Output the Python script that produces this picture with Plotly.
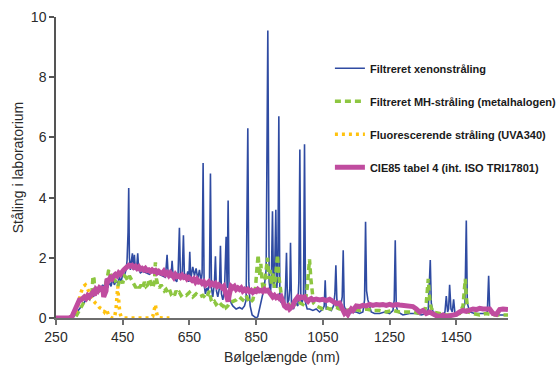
import plotly.graph_objects as go

# ---------------- data ----------------
xenon_wl = [250, 300, 320, 340, 360, 380, 390, 395, 400, 405, 410, 415, 420, 425, 430, 435, 440, 445, 450, 455, 460, 463,
            466, 468, 470, 473, 476, 479, 482, 485, 488, 492, 495, 498, 503, 510, 520, 530, 540, 550, 560, 570, 578,
            583, 586, 590, 595, 598, 601, 606, 612, 616, 620, 623, 628, 632, 635, 640, 645, 648, 651, 654, 660, 665,
            670, 675, 680, 685, 688, 691, 694, 698, 702, 706, 710, 713, 716, 720, 725, 728, 731, 735, 740, 743, 746,
            750, 755, 760, 763, 766, 769, 775, 780, 790, 800, 808, 815, 820, 825, 828, 832, 838, 845, 850, 855, 862,
            868, 874, 880, 885, 889, 893, 896, 899, 902, 905, 909, 912, 915, 918, 921, 925, 930, 935, 938, 941, 944,
            948, 951, 953, 956, 962, 968, 975, 978, 981, 984, 988, 992, 995, 998, 1003, 1010, 1020, 1030, 1040, 1050,
            1054, 1057, 1060, 1068, 1075, 1082, 1086, 1089, 1092, 1096, 1102, 1108, 1111, 1114, 1120, 1130, 1140,
            1150, 1160, 1170, 1175, 1178, 1181, 1185, 1190, 1195, 1205, 1220, 1235, 1250, 1260, 1264, 1267, 1270,
            1275, 1290, 1310, 1330, 1345, 1360, 1366, 1369, 1372, 1375, 1380, 1395, 1410, 1416, 1420, 1424, 1427,
            1430, 1434, 1438, 1442, 1446, 1460, 1470, 1476, 1480, 1483, 1490, 1505, 1520, 1535, 1543, 1547, 1550,
            1560, 1575, 1590, 1605]
xenon_val = [0.0, 0.0, 0.3, 0.6, 0.7, 0.9, 1.1, 1.0, 1.3, 1.0, 1.2, 1.05, 1.3, 1.1, 1.25, 1.15, 1.35, 1.2, 1.45, 1.4, 1.6, 1.9,
             2.85, 4.32, 2.0, 1.6, 1.9, 2.15, 1.6, 2.1, 1.6, 1.7, 2.15, 1.6, 1.5, 1.55, 1.5, 1.45, 1.55, 1.5, 1.45, 1.4, 1.35,
             2.1, 1.5, 1.45, 1.35, 1.9, 1.4, 1.3, 1.2, 1.5, 3.0, 1.4, 1.3, 2.75, 1.4, 1.3, 1.55, 1.2, 2.2, 1.3, 1.7, 1.4,
             1.65, 1.3, 1.6, 1.2, 1.5, 5.15, 1.1, 0.8, 1.0, 0.9, 1.2, 4.8, 1.0, 0.7, 1.2, 2.05, 0.9, 0.7, 1.0, 2.4, 0.8,
             0.6, 0.9, 2.7, 1.0, 3.9, 0.8, 0.5, 0.4, 0.3, 0.35, 0.3, 0.4, 0.6, 6.3, 1.2, 0.4, 0.1, 0.05, 0.0, 0.05, 0.4,
             0.6, 1.0, 1.6, 9.55, 1.2, 0.8, 1.5, 3.55, 1.0, 1.2, 3.6, 1.0, 1.5, 6.7, 0.8, 0.5, 0.6, 0.4, 1.0, 2.17, 0.5,
             0.6, 1.0, 2.5, 0.4, 0.3, 0.5, 0.4, 1.2, 5.6, 0.6, 0.5, 0.8, 5.77, 0.5, 0.3, 0.3, 0.25, 0.3, 0.2, 0.3,
             0.4, 1.25, 0.3, 0.3, 0.25, 0.4, 0.8, 1.75, 0.6, 0.3, 0.3, 0.7, 2.25, 0.4, 0.2, 0.15, 0.2,
             0.2, 0.15, 0.2, 0.6, 3.2, 0.9, 0.6, 0.4, 0.2, 0.15, 0.15, 0.2, 0.15, 0.25, 0.6, 2.58, 0.4,
             0.2, 0.1, 0.15, 0.15, 0.1, 0.15, 0.3, 1.0, 1.93, 0.5, 0.2, 0.15, 0.1, 0.2, 0.73, 0.2, 0.3,
             1.1, 0.3, 0.2, 0.62, 0.15, 0.15, 0.2, 0.5, 3.24, 0.5, 0.2, 0.15, 0.15, 0.15, 0.2, 1.4, 0.3,
             0.1, 0.1, 0.1, 0.1]

mh_wl = [310, 315, 320, 325, 330, 335, 340, 345, 350, 355, 358, 361, 364, 367, 372, 378, 385, 392, 398, 403, 408, 412, 416,
         420, 425, 430, 435, 440, 445, 450, 455, 460, 465, 470, 475, 480, 485, 490, 495, 500, 505, 510, 515, 520, 525,
         530, 535, 540, 545, 548, 551, 555, 560, 565, 570, 575, 580, 585, 590, 595, 600, 605, 610, 615, 620, 625, 630,
         640, 650, 660, 670, 680, 690, 700, 710, 715, 720, 725, 730, 735, 740, 745, 750, 755, 760, 765, 770, 780, 790,
         800, 810, 820, 830, 840, 848, 852, 856, 860, 864, 868, 872, 876, 880, 884, 888, 892, 896, 900, 905, 910, 914,
         918, 922, 926, 932, 940, 948, 955, 962, 968, 975, 982, 990, 998, 1003, 1007, 1010, 1014, 1018, 1022, 1030,
         1040, 1050, 1060, 1070, 1080, 1090, 1100, 1110, 1120, 1140, 1160, 1180, 1200, 1220, 1240, 1260, 1280, 1300,
         1320, 1340, 1355, 1360, 1363, 1366, 1369, 1373, 1380, 1400, 1420, 1440, 1460, 1470, 1474, 1477, 1480, 1485,
         1500, 1520, 1540, 1560, 1580, 1605]
mh_val = [0.05, 0.15, 0.3, 0.4, 0.5, 0.55, 0.6, 0.7, 0.65, 0.8, 0.9, 1.4, 1.3, 0.8, 0.85, 0.9, 0.95, 1.0, 1.1, 1.3, 1.6, 1.5,
          1.3, 1.2, 1.3, 1.15, 1.05, 1.2, 1.3, 1.15, 1.4, 1.35, 1.25, 1.4, 1.3, 1.15, 1.05, 1.0, 1.1, 1.0, 1.1, 1.0, 1.2,
          1.05, 1.1, 1.3, 1.15, 1.0, 1.2, 1.85, 1.3, 1.1, 1.0, 1.1, 1.0, 0.9, 0.95, 0.85, 0.95, 0.8, 0.85, 0.75, 0.9,
          0.8, 0.85, 0.75, 0.8, 0.75, 0.85, 0.7, 0.8, 0.7, 0.75, 0.65, 0.9, 0.6, 0.5, 0.55, 0.45, 0.5, 0.4, 0.45, 0.4,
          0.5, 0.35, 0.4, 0.5, 0.55, 0.6, 0.7, 0.6, 0.75, 0.5, 0.6, 1.0, 1.6, 2.1, 1.4, 1.8, 1.2, 0.9, 1.2, 1.7, 2.0,
          1.3, 1.6, 1.1, 1.5, 1.0, 1.8, 2.1, 1.4, 1.0, 0.7, 0.5, 0.4, 0.45, 0.35, 0.5, 0.4, 0.45, 0.5, 0.45, 0.6, 1.0,
          1.5, 1.95, 1.3, 0.9, 0.5, 0.4, 0.35, 0.3, 0.35, 0.3, 0.3, 0.35, 0.3, 0.3, 0.25, 0.3, 0.25, 0.3, 0.25, 0.25,
          0.2, 0.25, 0.2, 0.2, 0.2, 0.15, 0.2, 0.5, 1.0, 1.3, 0.8, 0.4, 0.2, 0.15, 0.1, 0.1, 0.15, 0.4, 1.0, 1.3, 0.7,
          0.2, 0.15, 0.1, 0.15, 0.1, 0.1, 0.1]

uva_wl = [295, 305, 312, 318, 325, 332, 338, 344, 350, 356, 362, 368, 374, 380, 388, 395, 400, 405, 410, 418, 425, 430,
          432, 435, 438, 441, 445, 455, 470, 490, 510, 530, 540, 545, 548, 551, 555, 570, 590]
uva_val = [0.0, 0.1, 0.3, 0.5, 0.85, 1.05, 1.1, 1.0, 0.85, 0.65, 0.55, 0.5, 0.45, 0.35, 0.3, 0.2, 0.3, 0.15, 0.05, 0.0, 0.0,
           0.3, 0.7, 1.05, 0.6, 0.2, 0.05, 0.0, 0.0, 0.0, 0.0, 0.0, 0.05, 0.3, 0.45, 0.2, 0.02, 0.0, 0.0]

cie_wl = [250, 270, 290, 298, 305, 310, 315, 320, 325, 330, 335, 340, 345, 350, 355, 360, 365, 370, 375, 380, 385, 390,
          393, 396, 400, 403, 408, 413, 418, 423, 428, 433, 438, 443, 448, 453, 458, 463, 468, 473, 478, 483, 488, 493,
          498, 503, 508, 513, 518, 523, 528, 533, 538, 543, 548, 553, 558, 563, 568, 573, 578, 583, 588, 593, 598, 603,
          608, 613, 618, 623, 628, 633, 638, 643, 648, 653, 658, 663, 668, 673, 678, 683, 688, 693, 698, 703, 708, 713,
          718, 723, 728, 733, 738, 743, 748, 753, 758, 763, 766, 770, 775, 780, 785, 790, 795, 800, 805, 810, 815, 820,
          825, 830, 835, 840, 845, 850, 855, 860, 865, 870, 875, 880, 885, 890, 895, 900, 905, 910, 915, 920, 925, 930,
          935, 940, 945, 950, 955, 960, 965, 970, 975, 980, 985, 990, 995, 1000, 1005, 1010, 1015, 1020, 1030, 1040,
          1050, 1060, 1070, 1080, 1090, 1100, 1105, 1110, 1115, 1120, 1125, 1130, 1135, 1140, 1145, 1150, 1160, 1170,
          1180, 1190, 1200, 1210, 1220, 1230, 1240, 1250, 1260, 1270, 1280, 1290, 1300, 1310, 1320, 1330, 1340, 1350,
          1360, 1370, 1380, 1390, 1400, 1410, 1420, 1430, 1440, 1450, 1460, 1470, 1480, 1490, 1500, 1510, 1520, 1530,
          1540, 1550, 1560, 1570, 1580, 1590, 1605]
cie_val = [0.0, 0.0, 0.0, 0.05, 0.25, 0.4, 0.5, 0.6, 0.6, 0.65, 0.7, 0.65, 0.75, 0.7, 0.8, 0.85, 0.75, 0.95, 0.9, 1.0, 0.95,
           1.05, 0.7, 0.8, 0.9, 1.3, 1.25, 1.35, 1.3, 1.4, 1.45, 1.4, 1.5, 1.45, 1.55, 1.6, 1.65, 1.7, 1.75, 1.72, 1.75,
           1.68, 1.72, 1.65, 1.7, 1.62, 1.65, 1.6, 1.65, 1.58, 1.6, 1.55, 1.6, 1.55, 1.58, 1.5, 1.55, 1.5, 1.48, 1.55,
           1.45, 1.5, 1.42, 1.5, 1.45, 1.35, 1.45, 1.38, 1.4, 1.35, 1.42, 1.35, 1.38, 1.3, 1.35, 1.3, 1.25, 1.3, 1.2,
           1.28, 1.2, 1.22, 1.15, 1.2, 1.1, 1.15, 1.2, 1.1, 1.15, 1.1, 1.15, 1.05, 1.1, 1.05, 1.0, 1.05, 0.8, 0.6, 0.55,
           0.8, 1.05, 1.0, 1.05, 0.95, 1.0, 0.95, 1.0, 0.9, 0.95, 0.9, 0.95, 0.88, 0.92, 0.85, 0.9, 0.88, 0.95, 0.9,
           0.92, 0.88, 0.95, 0.9, 0.92, 0.85, 0.75, 0.7, 0.75, 0.68, 0.72, 0.65, 0.7, 0.5, 0.4, 0.35, 0.4, 0.3, 0.35,
           0.4, 0.55, 0.65, 0.7, 0.65, 0.7, 0.68, 0.7, 0.6, 0.55, 0.62, 0.65, 0.6, 0.63, 0.6, 0.62, 0.58, 0.62, 0.55,
           0.48, 0.5, 0.4, 0.25, 0.15, 0.2, 0.12, 0.22, 0.3, 0.25, 0.35, 0.4, 0.38, 0.42, 0.4, 0.45, 0.42, 0.45, 0.43,
           0.45, 0.42, 0.45, 0.42, 0.45, 0.43, 0.42, 0.4, 0.42, 0.38, 0.3, 0.2, 0.25, 0.15, 0.2, 0.12, 0.08, 0.05, 0.1,
           0.05, 0.08, 0.1, 0.12, 0.2, 0.25, 0.22, 0.28, 0.3, 0.28, 0.32, 0.3, 0.28, 0.3, 0.15, 0.12, 0.28, 0.3, 0.28]

series_names = ["Filtreret xenonstråling", "Filtreret MH-stråling (metalhalogen)",
                "Fluorescerende stråling (UVA340)", "CIE85 tabel 4 (iht. ISO TRI17801)"]
x_ticks = [250, 450, 650, 850, 1050, 1250, 1450]
y_ticks = [0, 2, 4, 6, 8, 10]
x_title = "Bølgelængde (nm)"
y_title = "Ståling i laboratorium"

# ---------------- figure ----------------
FONT = "Liberation Sans, Arial, sans-serif"
fig = go.Figure()
fig.add_trace(go.Scatter(x=xenon_wl, y=xenon_val, mode="lines", name=series_names[0], legendgroup="a",
                         line=dict(color="#2F4BA2", width=1.6)))
fig.add_trace(go.Scatter(x=mh_wl, y=mh_val, mode="lines", name=series_names[1], legendgroup="b",
                         line=dict(color="#8DC641", width=3.5, dash="6px,4px")))
fig.add_trace(go.Scatter(x=uva_wl, y=uva_val, mode="lines", name=series_names[2], legendgroup="c",
                         line=dict(color="#FFC20E", width=3.5, dash="3px,4px")))
fig.add_trace(go.Scatter(x=cie_wl, y=cie_val, mode="lines", name=series_names[3], legendgroup="d",
                         line=dict(color="#C04C9F", width=5)))

fig.update_layout(
    width=557, height=365,
    margin=dict(l=56, r=49, t=17, b=47, autoexpand=False),
    paper_bgcolor="white", plot_bgcolor="white",
    font=dict(family=FONT, size=14, color="#2b2b2b"),
    showlegend=True,
    legend=dict(x=0.606, y=0.878, xanchor="left", yanchor="top",
                font=dict(family=FONT, size=11, color="#1a1a1a", weight="bold"),
                traceorder="grouped", tracegroupgap=14, bgcolor="rgba(0,0,0,0)", itemwidth=30),
    xaxis=dict(range=[250, 1605], tickvals=x_ticks, showgrid=False, zeroline=False,
               showline=True, linecolor="#6e6e6e", linewidth=2, ticks="outside", ticklen=5,
               tickcolor="#6e6e6e", tickwidth=1.5,
               title=dict(text=x_title, font=dict(size=14), standoff=19), tickfont=dict(size=14)),
    yaxis=dict(range=[0, 10], tickvals=y_ticks, showgrid=False, zeroline=False,
               showline=True, linecolor="#555555", linewidth=1.5, ticks="outside", ticklen=5,
               tickcolor="#555555", tickwidth=1.5,
               title=dict(text=y_title, font=dict(size=14), standoff=4), tickfont=dict(size=14)),
)

fig.write_html("out.html")
